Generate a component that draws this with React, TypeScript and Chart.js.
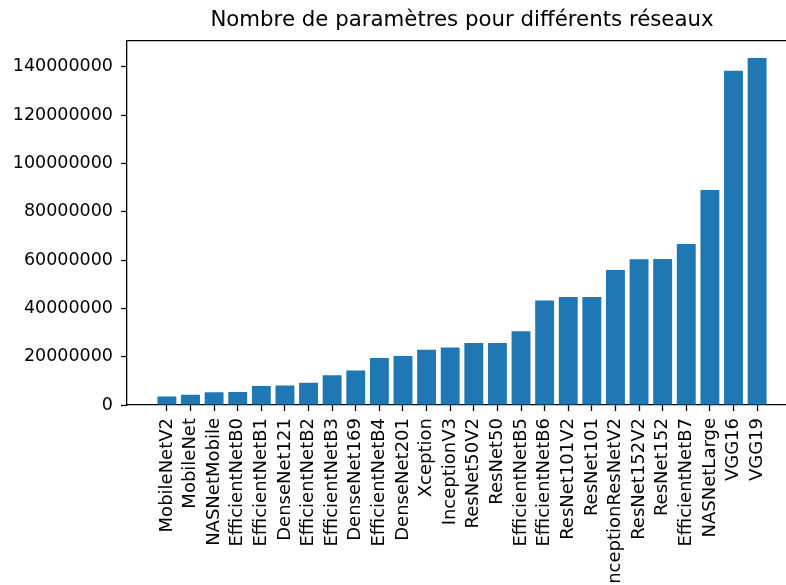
import React, { useEffect, useRef } from "react";
import { Chart, registerables } from "chart.js";

Chart.register(...registerables);

const categories = [
  "MobileNetV2", "MobileNet", "NASNetMobile", "EfficientNetB0", "EfficientNetB1",
  "DenseNet121", "EfficientNetB2", "EfficientNetB3", "DenseNet169", "EfficientNetB4",
  "DenseNet201", "Xception", "InceptionV3", "ResNet50V2", "ResNet50",
  "EfficientNetB5", "EfficientNetB6", "ResNet101V2", "ResNet101", "InceptionResNetV2",
  "ResNet152V2", "ResNet152", "EfficientNetB7", "NASNetLarge", "VGG16", "VGG19",
];

const parameters = [
  3538984, 4253864, 5326716, 5330571, 7856239,
  8062504, 9177569, 12320535, 14307880, 19466823,
  20242984, 22910480, 23851784, 25613800, 25636712,
  30562527, 43265143, 44675560, 44707176, 55873736,
  60380648, 60419944, 66658687, 88949818, 138357544, 143667240,
];

const yTickValues = [0, 20000000, 40000000, 60000000, 80000000, 100000000, 120000000, 140000000];

const title = "Nombre de paramètres pour différents réseaux";

const CANVAS_W = 800;
const CANVAS_H = 640;
const FONT = "'DejaVu Sans', sans-serif";

const spinePlugin = {
  id: "spines",
  afterDraw(chart: any) {
    const { ctx, chartArea } = chart;
    ctx.save();
    ctx.strokeStyle = "#000";
    ctx.lineWidth = 1.3;
    ctx.beginPath();
    ctx.moveTo(chartArea.left, chartArea.top);
    ctx.lineTo(chartArea.right, chartArea.top);
    ctx.stroke();
    ctx.restore();
  },
};

export default function App() {
  const ref = useRef<HTMLCanvasElement>(null);

  useEffect(() => {
    if (!ref.current) return;
    const dataMax = Math.max(...parameters);
    const span = categories.length - 1 + 0.8;
    const xMin = -0.4 - 0.05 * span;
    const xMax = categories.length - 1 + 0.4 + 0.05 * span;
    const chart = new Chart(ref.current, {
      type: "bar",
      data: {
        datasets: [
          {
            data: categories.map((_, i) => ({ x: i, y: parameters[i] })),
            backgroundColor: "#1f77b4",
            borderWidth: 0,
            categoryPercentage: 1,
            barPercentage: 0.8,
          },
        ],
      },
      options: {
        animation: false,
        responsive: false,
        devicePixelRatio: 1,
        layout: { padding: { left: 0, right: 3, top: 0, bottom: 0 } },
        plugins: {
          legend: { display: false },
          tooltip: { enabled: false },
          title: {
            display: true,
            text: title,
            fullSize: false,
            color: "#000",
            font: { family: FONT, size: 21.3, weight: "normal" },
            padding: { top: 8, bottom: 7 },
          },
        },
        scales: {
          x: {
            type: "linear",
            offset: false,
            min: xMin,
            max: xMax,
            afterBuildTicks: (scale: any) => {
              scale.ticks = categories.map((_, i) => ({ value: i }));
            },
            afterFit: (scale: any) => {
              scale.height = CANVAS_H - 405;
            },
            grid: {
              display: true,
              offset: false,
              drawOnChartArea: false,
              drawTicks: true,
              tickLength: 6,
              tickColor: "#000",
              tickWidth: 1.3,
            },
            border: { display: true, color: "#000", width: 1.3 },
            ticks: {
              autoSkip: false,
              minRotation: 90,
              maxRotation: 90,
              padding: 7,
              color: "#000",
              font: { family: FONT, size: 18 },
              callback: (value: any) => categories[Math.round(value)] ?? "",
            },
          },
          y: {
            type: "linear",
            min: 0,
            max: dataMax * 1.05,
            afterBuildTicks: (scale: any) => {
              scale.ticks = yTickValues.map((v) => ({ value: v }));
            },
            afterFit: (scale: any) => {
              scale.width = 127;
            },
            grid: {
              display: true,
              drawOnChartArea: false,
              drawTicks: true,
              tickLength: 6,
              tickColor: "#000",
              tickWidth: 1.3,
            },
            border: { display: true, color: "#000", width: 1.3 },
            ticks: {
              padding: 8,
              color: "#000",
              font: { family: FONT, size: 17.5 },
              callback: (value: any) => String(value),
            },
          },
        },
      },
      plugins: [spinePlugin],
    } as any);
    return () => chart.destroy();
  }, []);

  return (
    <div
      style={{
        position: "fixed",
        left: 0,
        top: 0,
        width: 786,
        height: 585,
        overflow: "hidden",
        background: "#fff",
      }}
    >
      <canvas
        ref={ref}
        width={CANVAS_W}
        height={CANVAS_H}
        style={{ display: "block", width: CANVAS_W, height: CANVAS_H }}
      />
    </div>
  );
}
